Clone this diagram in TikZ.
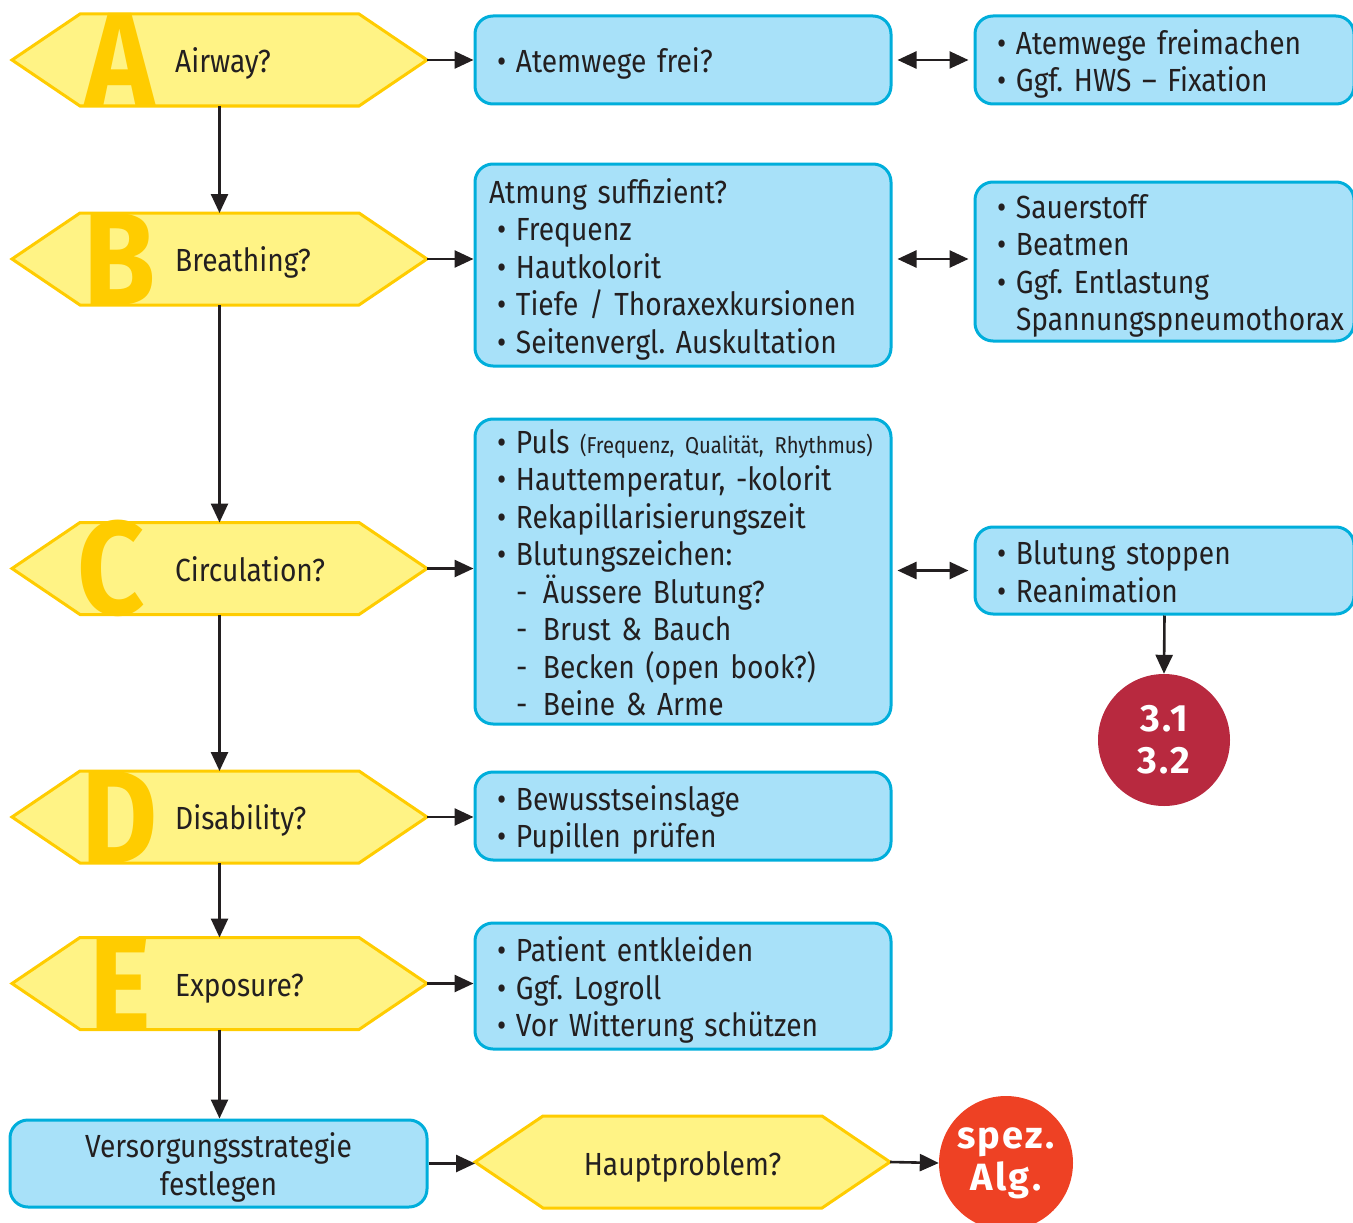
\documentclass[tikz,border=0pt]{standalone}
\usepackage{fontspec}
\setmainfont{Fira Sans}[FakeStretch=0.88]
\newfontfamily\badgefont{Fira Sans}[LetterSpace=6]
\usetikzlibrary{arrows.meta}
\frenchspacing

\definecolor{ink}{HTML}{231F20}
\definecolor{hexyellow}{HTML}{FFF385}
\definecolor{hexline}{HTML}{FFCC00}
\definecolor{boxfill}{HTML}{A8E1F9}
\definecolor{boxline}{HTML}{00AEDB}
\definecolor{alarmred}{HTML}{B8293F}
\definecolor{signalred}{HTML}{EE4124}

% bullet item, dash item and indented continuation line inside a box
\newcommand\li[1]{\mbox{\hspace*{8pt}\makebox[19pt][l]{•}#1}}
\newcommand\di[1]{\mbox{\hspace*{27pt}\makebox[27pt][l]{-}#1}}
\newcommand\ci[1]{\mbox{\hspace*{27pt}#1}}

% hexagon outline around a (rectangular) anchor node
\newcommand\hexpath[2]{%
  \path[#2] (#1.west) -- ([xshift=68pt]#1.north west) -- ([xshift=-68pt]#1.north east)
    -- (#1.east) -- ([xshift=-68pt]#1.south east) -- ([xshift=68pt]#1.south west) -- cycle;}

\begin{document}
\begin{tikzpicture}[x=1pt,y=-1pt,
  font=\fontsize{32}{37.5}\selectfont, text=ink,
  hexnode/.style={minimum height=92, minimum width=415, inner sep=0, outer sep=0},
  hexfill/.style={fill=hexyellow},
  hexedge/.style={draw=hexline, line width=3, line join=miter},
  bigletter/.style={font=\fontsize{133}{133}\selectfont\bfseries, text=hexline, inner sep=0, anchor=base},
  hexlabel/.style={anchor=base west, inner sep=0},
  box/.style={draw=boxline, fill=boxfill, line width=3, rounded corners=18,
    inner xsep=14, inner ysep=0, align=left,
    execute at begin node={\rule{0pt}{33pt}},
    execute at end node={\rule[-7pt]{0pt}{0pt}}},
  wide/.style={box, text width=388},
  narrow/.style={box, text width=351},
  badge/.style={circle, inner sep=0, text=white, align=center,
    font=\fontsize{38}{42}\badgefont\bfseries},
  link/.style={draw=ink, line width=2.6, -{Triangle[length=19,width=17]}},
  both/.style={draw=ink, line width=2.6,
    {Triangle[length=19,width=17]}-{Triangle[length=19,width=17]}, shorten <=5, shorten >=5},
]
\useasboundingbox (0,0) rectangle (1353,1223);

% ---- ABCDE hexagons ----
\foreach \n/\cy/\L/\lx/\txt in {A/60/A/120/Airway?, B/259/B/120/Breathing?,
    C/568.5/C/111/Circulation?, D/817/D/120/Disability?, E/983.5/E/120/Exposure?}{
  \node[hexnode] (\n) at (219.5,\cy) {};
  \hexpath{\n}{hexfill}
  \node[bigletter] (\n letter) at (\lx,\cy+46) {\L};
  \hexpath{\n}{hexedge}
  \node[hexlabel] (\n label) at (175,\cy+12.5) {\txt};
}

% ---- assessment boxes ----
\node[wide, minimum height=88] (a1) at (683,60) {\li{Atemwege frei?}};
\node[wide, minimum height=202] (b1) at (683,265) {Atmung suffizient?\\
  \li{Frequenz}\\ \li{Hautkolorit}\\ \li{Tiefe / Thoraxexkursionen}\\
  \li{Seitenvergl. Auskultation}};
\node[wide, minimum height=305] (c1) at (683,571.5) {%
  \li{Puls {\fontsize{23}{37.5}\selectfont(Frequenz, Qualität, Rhythmus)}}\\
  \li{Hauttemperatur, -kolorit}\\ \li{Rekapillarisierungszeit}\\
  \li{Blutungszeichen:}\\ \di{Äussere Blutung?}\\ \di{Brust \& Bauch}\\
  \di{Becken (open book?)}\\ \di{Beine \& Arme}};
\node[wide, minimum height=88] (d1) at (683,816) {\li{Bewusstseinslage}\\ \li{Pupillen prüfen}};
\node[wide, minimum height=126] (e1) at (683,986) {\li{Patient entkleiden}\\
  \li{Ggf. Logroll}\\ \li{Vor Witterung schützen}};

% ---- measures ----
\node[narrow, minimum height=88] (a2) at (1164.5,60) {\li{Atemwege freimachen}\\
  \li{Ggf. HWS – Fixation}};
\node[narrow, minimum height=159] (b2) at (1164.5,261.5) {\li{Sauerstoff}\\
  \li{Beatmen}\\ \li{Ggf. Entlastung}\\ \ci{Spannungspneumothorax}};
\node[narrow, minimum height=87] (c2) at (1164.5,570.5) {\li{Blutung stoppen}\\
  \li{Reanimation}};
\node[badge, fill=alarmred, minimum size=132] (ref) at (1164,740) {3.1\\3.2};

% ---- strategy row ----
\node[box, align=center, text width=389, minimum height=87] (V) at (218.5,1163.5)
  {Versorgungsstrategie\\festlegen};
\node[hexnode] (H) at (682.5,1162) {};
\hexpath{H}{hexfill}
\hexpath{H}{hexedge}
\node[anchor=base, inner sep=0] (Hlabel) at (682.5,1175) {Hauptproblem?};
\node[badge, fill=signalred, minimum size=134] (alg) at (1006,1163) {spez.\\Alg.};

% ---- connectors ----
\draw[link] (A.south) -- (B.north);
\draw[link] (B.south) -- (C.north);
\draw[link] (C.south) -- (D.north);
\draw[link] (D.south) -- (E.north);
\draw[link] (E.south) -- (E.south |- V.north);

\draw[link] (A.east) -- (a1.west);
\draw[link] (B.east) -- (B.east -| b1.west);
\draw[link] (C.east) -- (C.east -| c1.west);
\draw[link] (D.east) -- (D.east -| d1.west);
\draw[link] (E.east) -- (E.east -| e1.west);

\draw[both] (a1.east) -- (a2.west);
\draw[both] (b1.east |- B.east) -- (b2.west |- B.east);
\draw[both] (c1.east |- c2.west) -- (c2.west);
\draw[link] (c2.south) -- (ref.north);

\draw[link] (V.east) -- (V.east -| H.west);
\draw[link] (H.east) -- (alg.west);
\end{tikzpicture}
\end{document}
